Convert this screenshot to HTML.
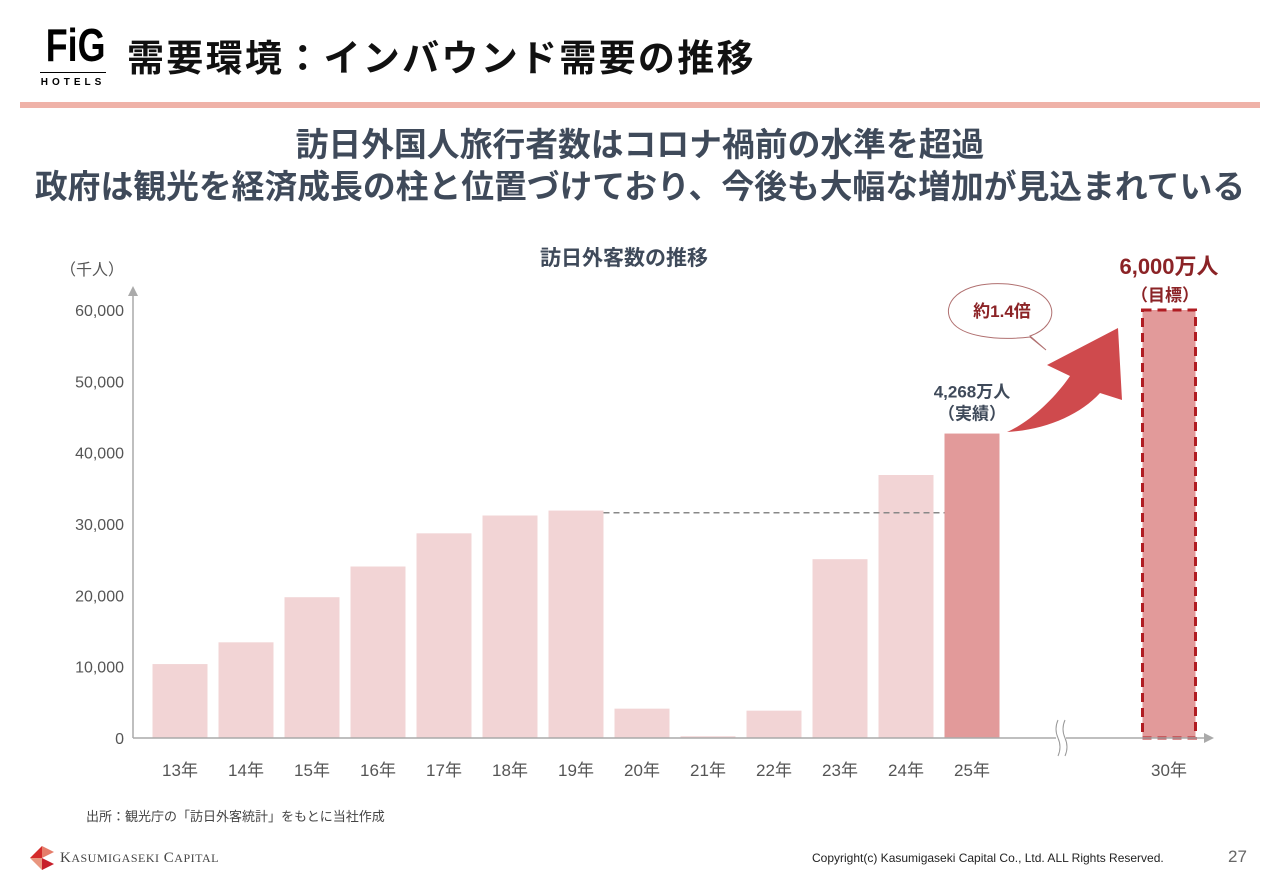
<!DOCTYPE html>
<html lang="ja"><head><meta charset="utf-8">
<style>
html,body{margin:0;padding:0;background:#fff;}
body{width:1280px;height:886px;position:relative;overflow:hidden;font-family:"Liberation Sans","Noto Sans CJK JP",sans-serif;}
.abs{position:absolute;}
</style></head><body>
<div class="abs" style="left:38px;top:22px;width:70px;text-align:center;">
  <div style="font-family:'Liberation Sans',sans-serif;font-weight:bold;font-size:46px;line-height:46px;letter-spacing:0px;transform:scaleX(0.78);">FiG</div>
  <div style="border-top:1px solid #000;margin:4px 2px 0;padding-top:4px;font-size:10px;letter-spacing:4px;font-weight:bold;">HOTELS</div>
</div>
<div class="abs" style="left:127px;top:28px;font-size:37px;font-weight:bold;color:#111;letter-spacing:2.3px;">需要環境：インバウンド需要の推移</div>
<div class="abs" style="left:20px;top:102px;width:1240px;height:6px;background:#efb2a8;"></div>
<div class="abs" style="left:0;top:124px;width:1280px;text-align:center;font-size:32.8px;font-weight:bold;color:#3f4a5a;line-height:42px;">訪日外国人旅行者数はコロナ禍前の水準を超過<br>政府は観光を経済成長の柱と位置づけており、今後も大幅な増加が見込まれている</div>
<div class="abs" style="left:540px;top:242px;font-size:21px;font-weight:bold;color:#3f4a5a;">訪日外客数の推移</div>
<div class="abs" style="left:60px;top:256px;font-size:16px;color:#555;">（千人）</div>

<svg class="abs" style="left:0;top:0" width="1280" height="886">
<g id="g"></g>
</svg>

<div class="abs" style="left:86px;top:806px;font-size:13px;color:#444;">出所：観光庁の「訪日外客統計」をもとに当社作成</div>
<svg class="abs" style="left:26px;top:842px" width="30" height="32">
<polygon points="4,16 16,4 16,16" fill="#d42a2a"/><polygon points="16,4 28,10 16,16" fill="#e57d6a"/><polygon points="4,16 16,16 16,28" fill="#e9967f"/><polygon points="16,16 28,22 16,28" fill="#c71e2a"/>
</svg>
<div class="abs" style="left:60px;top:850px;font-family:'Liberation Serif',serif;font-size:15px;color:#444;letter-spacing:0.5px;">K<span style="font-size:12px">ASUMIGASEKI</span> C<span style="font-size:12px">APITAL</span></div>
<div class="abs" style="left:812px;top:851px;font-size:12px;color:#222;">Copyright(c) Kasumigaseki Capital Co., Ltd. ALL Rights Reserved.</div>
<div class="abs" style="left:1228px;top:847px;font-size:17px;color:#666;">27</div>

<script>
const categories=["13年","14年","15年","16年","17年","18年","19年","20年","21年","22年","23年","24年","25年"];
const values=[10364,13413,19737,24040,28691,31192,31882,4116,246,3832,25066,36870,42680];
const targetCategory="30年";
const targetValue=60000;
const yTicks=[0,10000,20000,30000,40000,50000,60000];
const NS="http://www.w3.org/2000/svg";
const g=document.getElementById('g');
const y0=738,pxPer=(738-310)/60000;
function yScale(v){return y0-v*pxPer;}
function xCenter(i){return 180+i*66;}
const bw=55;
function mk(tag,attrs,txt){const e=document.createElementNS(NS,tag);for(const k in attrs)e.setAttribute(k,attrs[k]);if(txt!=null)e.textContent=txt;g.appendChild(e);return e;}
let e=mk('line',{x1:133,y1:738,x2:133,y2:294,stroke:'#aaa','stroke-width':1.5});

mk('polygon',{points:'128,296 138,296 133,286',fill:'#aaa'});
yTicks.forEach(t=>{const l=mk('text',{x:124,y:yScale(t)+6,'text-anchor':'end','font-size':16,fill:'#555'},t.toLocaleString('en-US'));
});
values.forEach((v,i)=>{const last=i===values.length-1;
const r=mk('rect',{x:xCenter(i)-bw/2,y:yScale(v),width:bw,height:y0-yScale(v),fill:last?'#e29a9a':'#f2d4d5'});

const t=mk('text',{x:xCenter(i),y:776,'text-anchor':'middle','font-size':17,fill:'#555'},categories[i]);
});
const tx=1169;
const tb=mk('rect',{x:tx-bw/2+1,y:yScale(targetValue),width:bw-2,height:y0-yScale(targetValue),fill:'#e29a9a',stroke:'#b01c22','stroke-width':3,'stroke-dasharray':'9,6'});

const tt=mk('text',{x:tx,y:776,'text-anchor':'middle','font-size':17,fill:'#555'},targetCategory);

e=mk('line',{x1:133,y1:738,x2:1205,y2:738,stroke:'#aaa','stroke-width':1.5});

mk('polygon',{points:'1204,733 1214,738 1204,743',fill:'#aaa'});
mk('rect',{x:1056,y:725,width:10,height:28,fill:'#fff'});
mk('path',{d:'M1058,720 q-4,9 0,18 q4,9 0,18 M1065,720 q-4,9 0,18 q4,9 0,18',fill:'none',stroke:'#999','stroke-width':1});
e=mk('line',{x1:xCenter(6)+bw/2,y1:yScale(values[6]-300),x2:xCenter(12)-bw/2,y2:yScale(values[6]-300),stroke:'#888','stroke-width':1.5,'stroke-dasharray':'6,4'});

e=mk('text',{x:xCenter(12),y:yScale(values[12])-36,'text-anchor':'middle','font-size':17,'font-weight':'bold',fill:'#3f4a5a'},'4,268万人');

mk('text',{x:xCenter(12),y:yScale(values[12])-14,'text-anchor':'middle','font-size':17,'font-weight':'bold',fill:'#3f4a5a'},'（実績）');
e=mk('text',{x:tx,y:274,'text-anchor':'middle','font-size':22,'font-weight':'bold',fill:'#8b2326'},'6,000万人');

mk('text',{x:tx-4,y:301,'text-anchor':'middle','font-size':17,'font-weight':'bold',fill:'#8b2326'},'（目標）');
e=mk('path',{d:'M1007,432 C1030,422 1055,398 1070,376 L1047,365 L1118,328 L1122,400 L1100,393 C1080,415 1045,430 1007,432 Z',fill:'#cf4a4d'});

e=mk('path',{d:'M1030,336 C1062,325 1062,290 1008,284 C958,280 940,305 952,322 C962,336 995,341 1030,337 L1046,350 Z',fill:'#fff',stroke:'#b07070','stroke-width':1});

mk('text',{x:1002,y:317,'text-anchor':'middle','font-size':17,'font-weight':'bold',fill:'#8b2326'},'約1.4倍');
</script>
</body></html>
